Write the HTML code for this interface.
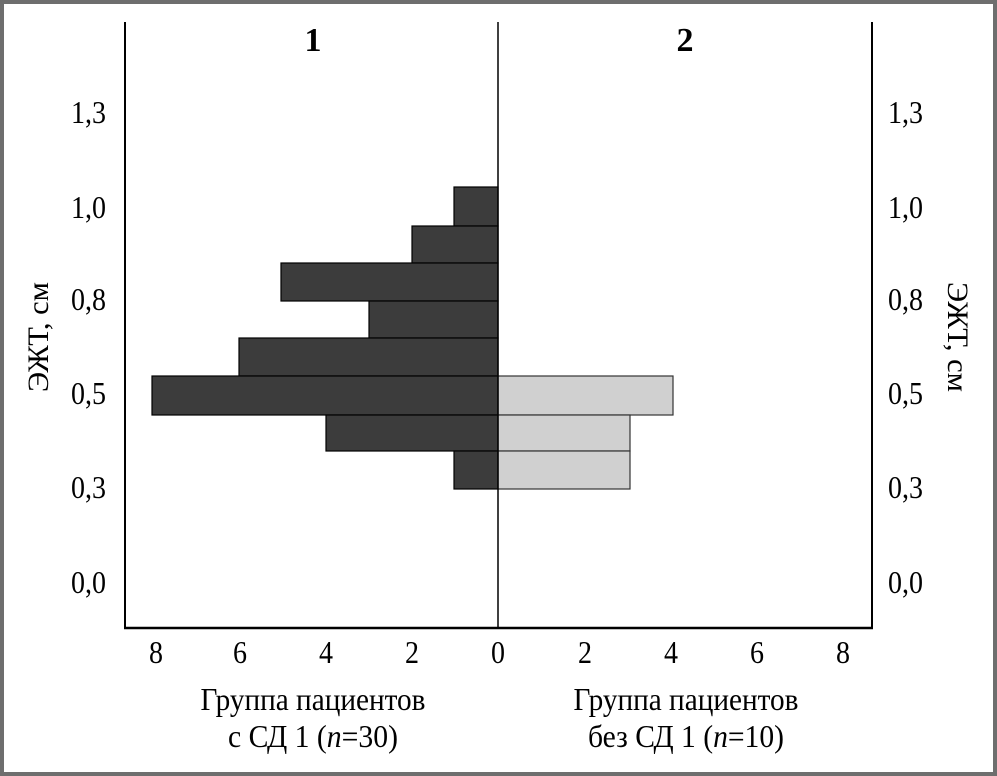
<!DOCTYPE html>
<html><head><meta charset="utf-8"><style>
html,body{margin:0;padding:0;background:#fff}
svg{display:block}
text{font-family:"Liberation Serif",serif;fill:#000}
</style></head><body>
<svg width="997" height="776" viewBox="0 0 997 776">
<rect x="0" y="0" width="997" height="776" fill="#6e6e6e"/>
<rect x="4" y="4" width="989" height="768" fill="#fff"/>
<g fill="#3c3c3c" stroke="#000" stroke-width="1.2">
<rect x="454" y="187" width="44" height="39"/>
<rect x="412" y="226" width="86" height="37"/>
<rect x="281" y="263" width="217" height="38"/>
<rect x="369" y="301" width="129" height="37"/>
<rect x="239" y="338" width="259" height="38"/>
<rect x="152" y="376" width="346" height="39"/>
<rect x="326" y="415" width="172" height="36"/>
<rect x="454" y="451" width="44" height="38"/>
</g>
<g fill="#d0d0d0" stroke="#333" stroke-width="1.2">
<rect x="498" y="376" width="175" height="39"/>
<rect x="498" y="415" width="132" height="36"/>
<rect x="498" y="451" width="132" height="38"/>
</g>
<line x1="125" y1="22" x2="125" y2="629" stroke="#000" stroke-width="2"/>
<line x1="872" y1="22" x2="872" y2="629" stroke="#000" stroke-width="2"/>
<line x1="498" y1="22" x2="498" y2="629" stroke="#000" stroke-width="1.5"/>
<line x1="124" y1="628" x2="873" y2="628" stroke="#000" stroke-width="2.5"/>
<text x="313" y="51" font-size="34" font-weight="bold" text-anchor="middle">1</text>
<text x="685" y="51" font-size="34" font-weight="bold" text-anchor="middle">2</text>
<g font-size="32" text-anchor="end">
<text x="106" y="123" textLength="35" lengthAdjust="spacingAndGlyphs">1,3</text>
<text x="106" y="218" textLength="35" lengthAdjust="spacingAndGlyphs">1,0</text>
<text x="106" y="310" textLength="35" lengthAdjust="spacingAndGlyphs">0,8</text>
<text x="106" y="404" textLength="35" lengthAdjust="spacingAndGlyphs">0,5</text>
<text x="106" y="498" textLength="35" lengthAdjust="spacingAndGlyphs">0,3</text>
<text x="106" y="593" textLength="35" lengthAdjust="spacingAndGlyphs">0,0</text>
</g>
<g font-size="32" text-anchor="start">
<text x="888" y="123" textLength="35" lengthAdjust="spacingAndGlyphs">1,3</text>
<text x="888" y="218" textLength="35" lengthAdjust="spacingAndGlyphs">1,0</text>
<text x="888" y="310" textLength="35" lengthAdjust="spacingAndGlyphs">0,8</text>
<text x="888" y="404" textLength="35" lengthAdjust="spacingAndGlyphs">0,5</text>
<text x="888" y="498" textLength="35" lengthAdjust="spacingAndGlyphs">0,3</text>
<text x="888" y="593" textLength="35" lengthAdjust="spacingAndGlyphs">0,0</text>
</g>
<g font-size="32" text-anchor="middle">
<text x="156" y="663" textLength="14" lengthAdjust="spacingAndGlyphs">8</text>
<text x="240" y="663" textLength="14" lengthAdjust="spacingAndGlyphs">6</text>
<text x="326" y="663" textLength="14" lengthAdjust="spacingAndGlyphs">4</text>
<text x="412" y="663" textLength="14" lengthAdjust="spacingAndGlyphs">2</text>
<text x="498" y="663" textLength="14" lengthAdjust="spacingAndGlyphs">0</text>
<text x="585" y="663" textLength="14" lengthAdjust="spacingAndGlyphs">2</text>
<text x="671" y="663" textLength="14" lengthAdjust="spacingAndGlyphs">4</text>
<text x="757" y="663" textLength="14" lengthAdjust="spacingAndGlyphs">6</text>
<text x="843" y="663" textLength="14" lengthAdjust="spacingAndGlyphs">8</text>
</g>
<g font-size="32" text-anchor="middle">
<text x="313" y="710" textLength="225" lengthAdjust="spacingAndGlyphs">Группа пациентов</text>
<text x="313" y="747" textLength="170" lengthAdjust="spacingAndGlyphs">с СД 1 (<tspan font-style="italic">n</tspan>=30)</text>
<text x="686" y="710" textLength="225" lengthAdjust="spacingAndGlyphs">Группа пациентов</text>
<text x="686" y="747" textLength="196" lengthAdjust="spacingAndGlyphs">без СД 1 (<tspan font-style="italic">n</tspan>=10)</text>
</g>
<text font-size="30" text-anchor="middle" transform="translate(48,337) rotate(-90)" textLength="110" lengthAdjust="spacingAndGlyphs">ЭЖТ, см</text>
<text font-size="30" text-anchor="middle" transform="translate(948,337) rotate(90)" textLength="110" lengthAdjust="spacingAndGlyphs">ЭЖТ, см</text>
</svg>
</body></html>
